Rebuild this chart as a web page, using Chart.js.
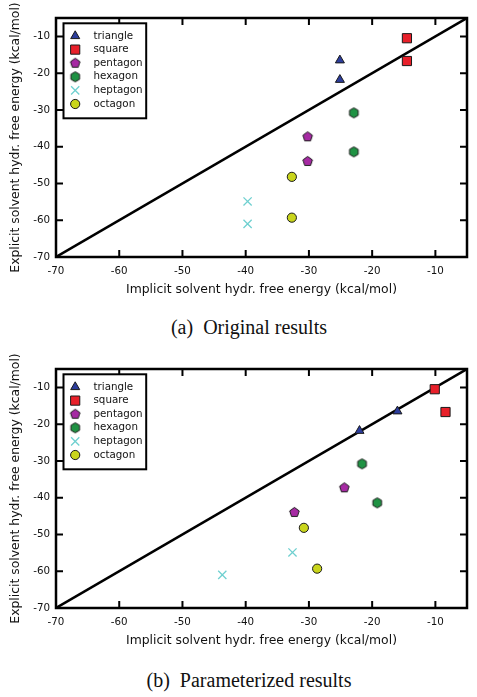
<!DOCTYPE html>
<html>
<head>
<meta charset="utf-8">
<script src="https://cdn.jsdelivr.net/npm/chart.js@4/dist/chart.umd.min.js"></script>
<style>
  body { margin: 0; background: #fff; }
  .panel { position: absolute; left: 0; width: 477px; height: 300px; }
  .caption {
    position: absolute; left: 0; width: 498px; text-align: center;
    font-family: "Liberation Serif", serif; font-size: 20px; line-height: 20px; color: #111;
    white-space: pre;
  }
</style>
</head>
<body>
<div class="panel" style="top:0"><canvas id="chartA" width="477" height="300"></canvas></div>
<div class="caption" style="top:317px">(a)  Original results</div>
<div class="panel" style="top:351px"><canvas id="chartB" width="477" height="300"></canvas></div>
<div class="caption" style="top:670px">(b)  Parameterized results</div>
<script>
const series = ['triangle', 'square', 'pentagon', 'hexagon', 'heptagon', 'octagon'];
const tickValues = [-70, -60, -50, -40, -30, -20, -10];
const axisRange = [-70, -5];
const diagonal = [-70, -5];

// explicit solvent (same in both panels)
const triangleY = [-16.5, -21.8];
const squareY = [-10.5, -16.7];
const pentagonY = [-37.3, -44.0];
const hexagonY = [-30.8, -41.4];
const heptagonY = [-54.9, -61.0];
const octagonY = [-48.2, -59.3];

// implicit solvent, original
const triangleA = [-25.1, -25.1];
const squareA = [-14.5, -14.5];
const pentagonA = [-30.2, -30.2];
const hexagonA = [-22.9, -22.9];
const heptagonA = [-39.7, -39.7];
const octagonA = [-32.7, -32.7];

// implicit solvent, parameterized
const triangleB = [-16.0, -22.0];
const squareB = [-10.1, -8.4];
const pentagonB = [-24.4, -32.3];
const hexagonB = [-21.6, -19.2];
const heptagonB = [-32.6, -43.7];
const octagonB = [-30.8, -28.7];

const colors = ['#2c3d9c', '#e8202a', '#a62aa3', '#1f9243', '#6fd0d0', '#c9d51c'];

function polyMarker(n, r, fill) {
  const c = document.createElement('canvas');
  const s = Math.ceil(2 * r + 3);
  c.width = s; c.height = s;
  const g = c.getContext('2d');
  g.beginPath();
  for (let i = 0; i < n; i++) {
    const a = -Math.PI / 2 + i * 2 * Math.PI / n;
    const px = s / 2 + r * Math.cos(a), py = s / 2 + r * Math.sin(a);
    if (i === 0) g.moveTo(px, py); else g.lineTo(px, py);
  }
  g.closePath();
  g.fillStyle = fill;
  g.fill();
  g.strokeStyle = '#1a1a1a';
  g.lineWidth = 1;
  g.stroke();
  return c;
}

const styles = [
  { pointStyle: 'triangle', pointRadius: 5.2 },
  { pointStyle: 'rect', pointRadius: 6.5 },
  { pointStyle: polyMarker(5, 5, colors[2]), pointRadius: 5 },
  { pointStyle: polyMarker(6, 5, colors[3]), pointRadius: 5 },
  { pointStyle: 'crossRot', pointRadius: 5.8 },
  { pointStyle: 'circle', pointRadius: 4.6 }
];

function pairs(xs, ys) {
  return xs.map((x, i) => ({ x: x, y: ys[i] }));
}

const allY = [triangleY, squareY, pentagonY, hexagonY, heptagonY, octagonY];

function makeDatasets(xsList) {
  const ds = series.map((name, i) => ({
    label: name,
    data: pairs(xsList[i], allY[i]),
    backgroundColor: colors[i],
    borderColor: i === 4 ? colors[4] : '#1a1a1a',
    borderWidth: i === 4 ? 1.3 : 1,
    pointStyle: styles[i].pointStyle,
    pointRadius: styles[i].pointRadius,
    order: 1
  }));
  ds.push({
    label: '',
    data: pairs(diagonal, diagonal),
    showLine: true,
    borderColor: '#000',
    borderWidth: 2.5,
    pointRadius: 0,
    order: 5
  });
  return ds;
}

const framePlugin = {
  id: 'frame',
  afterDraw(chart) {
    const { ctx, chartArea: a, scales: { x, y } } = chart;
    ctx.save();
    ctx.strokeStyle = '#000';
    ctx.lineWidth = 2;
    ctx.beginPath();
    tickValues.forEach(v => {
      if (v > x.min && v < x.max) {
        const px = x.getPixelForValue(v);
        ctx.moveTo(px, a.top); ctx.lineTo(px, a.top + 7);
        ctx.moveTo(px, a.bottom); ctx.lineTo(px, a.bottom - 7);
      }
      if (v > y.min && v < y.max) {
        const py = y.getPixelForValue(v);
        ctx.moveTo(a.left, py); ctx.lineTo(a.left + 7, py);
        ctx.moveTo(a.right, py); ctx.lineTo(a.right - 7, py);
      }
    });
    ctx.stroke();
    ctx.lineWidth = 2.5;
    ctx.strokeRect(a.left, a.top, a.width, a.height);

    // legend box in upper left corner
    const lx = a.left + 7.5, ly = a.top + 5.3, lw = 82.7, lh = 95;
    ctx.fillStyle = '#fff';
    ctx.fillRect(lx, ly, lw, lh);
    ctx.lineWidth = 2;
    ctx.strokeRect(lx, ly, lw, lh);
    ctx.font = '10.3px "DejaVu Sans"';
    ctx.textBaseline = 'middle';
    chart.data.datasets.forEach((ds, i) => {
      if (!ds.label) return;
      const cy = ly + 12.7 + i * 13.6;
      ctx.fillStyle = ds.backgroundColor;
      ctx.strokeStyle = ds.borderColor;
      ctx.lineWidth = ds.borderWidth;
      Chart.helpers.drawPoint(ctx, {
        pointStyle: ds.pointStyle, radius: ds.pointRadius, borderWidth: ds.borderWidth, rotation: 0
      }, lx + 11.7, cy);
      ctx.fillStyle = '#111';
      ctx.fillText(ds.label, lx + 30, cy);
    });
    ctx.restore();
  }
};

function axis(title, isX) {
  return {
    type: 'linear',
    min: axisRange[0],
    max: axisRange[1],
    afterBuildTicks: s => { s.ticks = tickValues.map(v => ({ value: v })); },
    afterFit: s => { if (isX) s.height = 43; else s.width = 56; },
    grid: { display: false, drawTicks: false },
    border: { display: false },
    ticks: {
      padding: isX ? 8 : 6,
      color: '#111',
      font: { family: 'DejaVu Sans', size: 10.3 },
      callback: v => String(v)
    },
    title: {
      display: true,
      text: title,
      color: '#111',
      font: { family: 'DejaVu Sans', size: 12.4 },
      padding: isX ? { top: 0, bottom: 2.5 } : { top: 8.5, bottom: 0 }
    }
  };
}

function makeChart(id, xsList) {
  return new Chart(document.getElementById(id), {
    type: 'scatter',
    data: { datasets: makeDatasets(xsList) },
    options: {
      responsive: false,
      animation: false,
      events: [],
      layout: { padding: { top: 18, right: 10, left: 0, bottom: 0 } },
      scales: {
        x: axis('Implicit solvent hydr. free energy (kcal/mol)', true),
        y: axis('Explicit solvent hydr. free energy (kcal/mol)', false)
      },
      plugins: { legend: { display: false }, tooltip: { enabled: false } }
    },
    plugins: [framePlugin]
  });
}

makeChart('chartA', [triangleA, squareA, pentagonA, hexagonA, heptagonA, octagonA]);
makeChart('chartB', [triangleB, squareB, pentagonB, hexagonB, heptagonB, octagonB]);
</script>
</body>
</html>
